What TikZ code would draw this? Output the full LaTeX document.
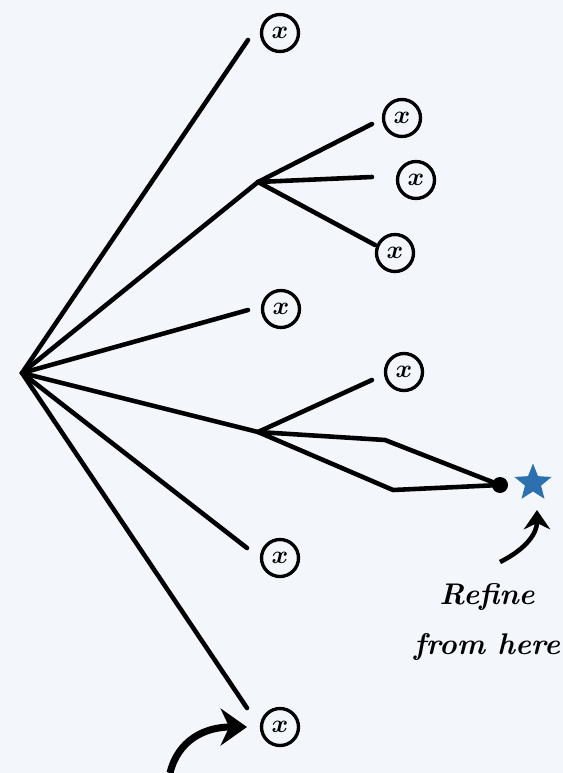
\documentclass[tikz,border=0pt]{standalone}
\usepackage{amsmath}
\usepackage{amssymb}
\usetikzlibrary{shapes.geometric,arrows.meta}

\definecolor{paper}{RGB}{243,247,251}
\definecolor{starblue}{RGB}{44,112,176}

\begin{document}
\begin{tikzpicture}[x=0.02cm,y=-0.02cm,
  branch/.style={line width=2.6pt,line cap=round,line join=round},
  leaf/.style={circle,draw,line width=1.9pt,minimum size=0.74cm,inner sep=0pt,
    font=\fontsize{14}{14}\selectfont},
  callout/.style={line width=2.6pt,-{Stealth[length=11pt,width=15pt]}}]
\fill[paper] (0,0) rectangle (563,773);
\useasboundingbox (0,0) rectangle (563,773);

% root and split points
\coordinate (root) at (22,373);
\coordinate (ju) at (258,182);
\coordinate (jl) at (258,432);
\coordinate (ca) at (385,440);
\coordinate (cb) at (393,490);
\node[circle,fill,inner sep=0pt,minimum size=0.32cm] (tip) at (500,485) {};
\node[star,star points=5,star point ratio=2.3,fill=starblue,inner sep=0pt,
  minimum size=0.78cm] (goal) at (533,483) {};

% leaves and the free ends of their branches
\foreach \n/\x/\y in {a/280/33,b/402/118,c/416/180,d/395/253,
                      e/281/309,f/404/372,g/280/558,h/280/727}
  \node[leaf] (\n) at (\x,\y) {$\boldsymbol{x}$};
\foreach \n/\x/\y in {ea/248/40,eb/372/124,ec/372/177,ed/375/245,
                      ee/248/310,ef/372/380,eg/247/548,eh/247/708}
  \coordinate (\n) at (\x,\y);

% branches
\foreach \e in {ea,ju,ee,jl,eg,eh}
  \draw[branch] (root) -- (\e);
\foreach \e in {eb,ec,ed}
  \draw[branch] (ju) -- (\e);
\draw[branch] (jl) -- (ef);
\draw[branch] (jl) -- (ca) -- (tip.center);
\draw[branch] (jl) -- (cb) -- (tip.center);

% notes
\node[font=\fontsize{17}{28}\selectfont\bfseries\itshape,align=center] (note)
  at (487,622) {Refine\\from here};
\coordinate (na) at (500,562);
\coordinate (nb) at (537,510);
\draw[callout] (na) .. controls (528,548) and (537,532) .. (nb);
\coordinate (ba) at (170,773);
\coordinate (bb) at (247,727);
\draw[callout,line width=4pt,-{Stealth[length=15pt,width=21pt]}]
  (ba) .. controls (178,740) and (205,727) .. (bb);
\end{tikzpicture}
\end{document}
